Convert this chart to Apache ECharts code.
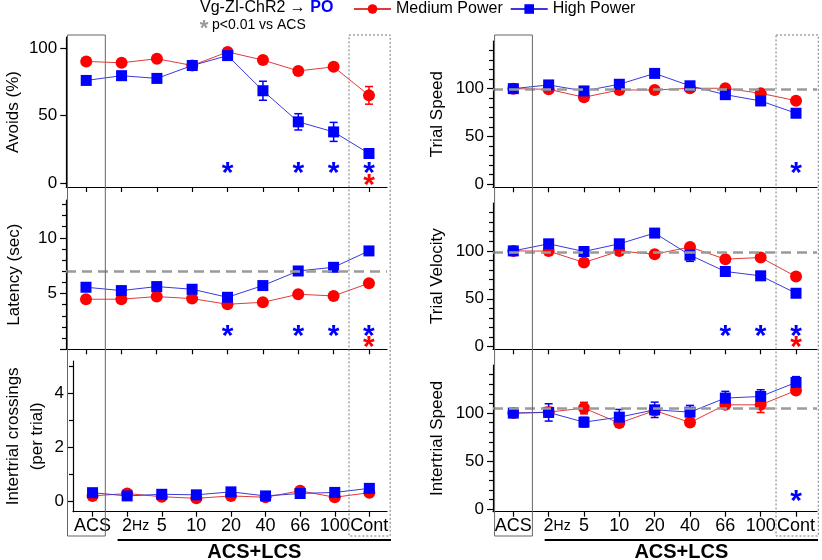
<!DOCTYPE html>
<html><head><meta charset="utf-8">
<script src="https://cdn.jsdelivr.net/npm/echarts@6/dist/echarts.min.js"></script>
<style>html,body{margin:0;padding:0;background:#fff}#c{width:822px;height:560px}</style>
</head><body><div id="c"></div>
<script>
// ---------------- DATA ----------------
const categories = ['ACS', '2Hz', '5', '10', '20', '40', '66', '100', 'Cont'];

// Avoids (%)
const avoidsMed     = [90, 89, 92, 87, 97, 91, 83, 86, 65];
const avoidsMedErr  = [2, 2, 2, 2, 2, 2, 2, 2, 6.5];
const avoidsHigh    = [76, 79.5, 77.5, 87, 94.3, 68.4, 45.5, 38.1, 22.2];
const avoidsHighErr = [2, 2, 3, 2, 2, 7, 6, 7, 2];
const avoidsStarsHigh = [[4, 11], [6, 11], [7, 11], [8, 11]];
const avoidsStarsMed  = [[8, 2.5]];

// Latency (sec)
const latencyMed     = [4.49, 4.5, 4.73, 4.55, 4.04, 4.22, 4.94, 4.79, 5.93];
const latencyMedErr  = [0.25, 0.25, 0.25, 0.25, 0.25, 0.25, 0.25, 0.25, 0.25];
const latencyHigh    = [5.57, 5.27, 5.63, 5.39, 4.67, 5.72, 7.03, 7.36, 8.83];
const latencyHighErr = [0.25, 0.25, 0.25, 0.25, 0.25, 0.25, 0.25, 0.25, 0.25];
const latencyRef = 7;
const latencyStarsHigh = [[4, 1.64], [6, 1.64], [7, 1.64], [8, 1.64]];
const latencyStarsMed  = [[8, 0.59]];

// Intertrial crossings (per trial)
const crossMed     = [0.2, 0.29, 0.17, 0.11, 0.2, 0.15, 0.39, 0.15, 0.32];
const crossMedErr  = [0.05, 0.05, 0.05, 0.05, 0.05, 0.05, 0.05, 0.05, 0.05];
const crossHigh    = [0.32, 0.2, 0.26, 0.24, 0.35, 0.2, 0.29, 0.33, 0.48];
const crossHighErr = [0.05, 0.05, 0.05, 0.05, 0.05, 0.05, 0.05, 0.05, 0.05];

// Trial Speed
const speedMed     = [100, 99.3, 91, 98.6, 98.6, 100.4, 100.4, 95.1, 87.4];
const speedMedErr  = [2, 2, 2, 2, 2, 2, 2, 2, 2];
const speedHigh    = [100, 103.9, 97.6, 104.6, 116, 103, 93.7, 87.1, 74.2];
const speedHighErr = [2, 2, 2, 2, 2, 2, 2, 2, 2];
const speedRef = 99;
const speedStarsHigh = [[8, 16.5]];

// Trial Velocity
const velMed     = [100, 99.8, 87.9, 99.8, 96.6, 104, 91.4, 93.1, 73.2];
const velMedErr  = [2, 2, 2, 2, 2, 2, 2, 2, 2];
const velHigh    = [100, 107.4, 99.4, 107.4, 118.6, 95.6, 78.5, 74, 55.8];
const velHighErr = [2, 2, 2, 2, 3, 6.5, 2, 2, 2];
const velRef = 99;
const velStarsHigh = [[6, 16.4], [7, 16.4], [8, 16.4]];
const velStarsMed  = [[8, 4.2]];

// Intertrial Speed
const itSpeedMed     = [100, 101, 105.2, 89.6, 102.7, 90.2, 108.6, 108.6, 123.5];
const itSpeedMedErr  = [2, 5, 6, 4, 4, 3, 4, 8, 4];
const itSpeedHigh    = [100, 100.7, 90.6, 95.8, 103.4, 101, 115.6, 117.3, 131.9];
const itSpeedHighErr = [2, 9, 5, 8, 8, 7, 7, 7, 6];
const itSpeedRef = 105;
const itSpeedStarsHigh = [[8, 13]];

// ---------------- STYLE / LAYOUT ----------------
const FONT = "'Liberation Sans', Arial, sans-serif";
const RED = '#ff0000', BLUE = '#0000ff';
const RED_LINE = '#e23a3a', BLUE_LINE = '#3a3ad8';
const catIdx = categories.map((c, i) => i);
const xL = [-0.565, 8.51], xR = [-0.575, 8.594];
const rTicksMinor = [10, 20, 30, 40, 60, 70, 80, 90, 110, 120, 130, 140];

const panels = [
  {g:{left:66, top:37, width:321, height:150}, xr:xL, yr:[-2.5, 108], labels:[0,50,100], major:[0,50,100], minor:[],
   name:'Avoids (%)', nameGap:40, med:avoidsMed, medErr:avoidsMedErr, high:avoidsHigh, highErr:avoidsHighErr,
   ref:null, sh:avoidsStarsHigh, sm:avoidsStarsMed, bottom:false},
  {g:{left:66, top:200, width:321, height:149.3}, xr:xL, yr:[0, 13.4], labels:[5,10], major:[0,5,10], minor:[1,2,3,4,6,7,8,9,11,12,13],
   name:'Latency (sec)', nameGap:40, med:latencyMed, medErr:latencyMedErr, high:latencyHigh, highErr:latencyHighErr,
   ref:latencyRef, sh:latencyStarsHigh, sm:latencyStarsMed, bottom:false},
  {g:{left:66, top:361, width:321, height:150.7}, xr:xL, yr:[-0.385, 5.2], labels:[0,2,4], major:[0,2,4], minor:[1,3,5],
   name:'Intertrial crossings\n(per trial)', nameGap:24, med:crossMed, medErr:crossMedErr, high:crossHigh, highErr:crossHighErr,
   ref:null, sh:[], sm:[], bottom:true},
  {g:{left:493, top:41, width:324, height:146.3}, xr:xR, yr:[-3.5, 150], labels:[0,50,100], major:[0,50,100], minor:rTicksMinor,
   name:'Trial Speed', nameGap:44, med:speedMed, medErr:speedMedErr, high:speedHigh, highErr:speedHighErr,
   ref:speedRef, sh:speedStarsHigh, sm:[], bottom:false},
  {g:{left:493, top:203, width:324, height:146.3}, xr:xR, yr:[-2.7, 150], labels:[0,50,100], major:[0,50,100], minor:rTicksMinor,
   name:'Trial Velocity', nameGap:44, med:velMed, medErr:velMedErr, high:velHigh, highErr:velHighErr,
   ref:velRef, sh:velStarsHigh, sm:velStarsMed, bottom:false},
  {g:{left:493, top:365, width:324, height:146.7}, xr:xR, yr:[-2.5, 150], labels:[0,50,100], major:[0,50,100], minor:rTicksMinor,
   name:'Intertrial Speed', nameGap:44, med:itSpeedMed, medErr:itSpeedMedErr, high:itSpeedHigh, highErr:itSpeedHighErr,
   ref:itSpeedRef, sh:itSpeedStarsHigh, sm:[], bottom:true}
];

function errRender(color) {
  return function (params, api) {
    const x = api.value(0), y = api.value(1), e = api.value(2);
    const lo = api.coord([x, y - e]), hi = api.coord([x, y + e]);
    const w = 4, st = {stroke: color, lineWidth: 1.5};
    return {type: 'group', children: [
      {type: 'line', shape: {x1: lo[0], y1: lo[1], x2: hi[0], y2: hi[1]}, style: st},
      {type: 'line', shape: {x1: lo[0] - w, y1: lo[1], x2: lo[0] + w, y2: lo[1]}, style: st},
      {type: 'line', shape: {x1: hi[0] - w, y1: hi[1], x2: hi[0] + w, y2: hi[1]}, style: st}
    ]};
  };
}
function starRender(color) {
  return function (params, api) {
    const c = api.coord([api.value(0), api.value(1)]);
    const fs = 30;
    return {type: 'text', x: c[0], y: c[1] + 0.18 * fs,
      style: {text: '*', font: 'bold ' + fs + 'px ' + FONT, fill: color, align: 'center', verticalAlign: 'middle'}};
  };
}

const grids = [], xAxes = [], yAxes = [], series = [];
panels.forEach((p, i) => {
  grids.push(Object.assign({containLabel: false}, p.g));
  xAxes.push({
    type: 'value', gridIndex: i, min: p.xr[0], max: p.xr[1],
    axisLine: {show: true, onZero: false, lineStyle: {color: '#000', width: 1.2}},
    splitLine: {show: false},
    axisTick: {show: true, customValues: catIdx, length: 5, lineStyle: {color: '#000', width: 1.2}},
    axisLabel: {show: p.bottom, customValues: catIdx, margin: 5, color: '#000', fontSize: 18, fontFamily: FONT,
      formatter: function (v) {
        const k = Math.round(v);
        if (k === 1) return '{p|}2{hz|Hz}';
        return categories[k];
      },
      rich: {p: {width: 17}, hz: {fontSize: 14, fontFamily: FONT, color: '#000'}}
    }
  });
  yAxes.push({
    type: 'value', gridIndex: i, position: 'left', min: p.yr[0], max: p.yr[1],
    axisLine: {show: true, onZero: false, lineStyle: {color: '#000', width: 1.2}},
    splitLine: {show: false},
    axisTick: {show: true, customValues: p.major, length: 6, lineStyle: {color: '#000', width: 1.2}},
    axisLabel: {show: true, customValues: p.labels, margin: 9, color: '#000', fontSize: 17, fontFamily: FONT},
    name: p.name, nameLocation: 'middle', nameGap: p.nameGap,
    nameTextStyle: {color: '#000', fontSize: 17, fontFamily: FONT, lineHeight: 24}
  });
  yAxes.push({
    type: 'value', gridIndex: i, position: 'left', min: p.yr[0], max: p.yr[1],
    axisLine: {show: false, onZero: false}, splitLine: {show: false},
    axisTick: {show: p.minor.length > 0, customValues: p.minor.length ? p.minor : [p.yr[0]], length: 4, lineStyle: {color: '#000', width: 1.2}},
    axisLabel: {show: false}
  });
  const yi = 2 * i;
  series.push({type: 'custom', xAxisIndex: i, yAxisIndex: yi, renderItem: errRender(RED), z: 2, silent: true,
    data: p.med.map((v, k) => [k, v, p.medErr[k]])});
  series.push({type: 'custom', xAxisIndex: i, yAxisIndex: yi, renderItem: errRender(BLUE), z: 2, silent: true,
    data: p.high.map((v, k) => [k, v, p.highErr[k]])});
  const ml = p.ref === null ? undefined : {
    silent: true, symbol: 'none', label: {show: false},
    lineStyle: {type: [10, 6], color: '#9a9a9a', width: 2.5},
    data: [{yAxis: p.ref}]
  };
  series.push({name: 'Medium Power', type: 'line', xAxisIndex: i, yAxisIndex: yi, z: 3,
    symbol: 'circle', symbolSize: 12, itemStyle: {color: RED},
    lineStyle: {color: RED_LINE, width: 1}, data: p.med.map((v, k) => [k, v]), markLine: ml});
  series.push({name: 'High Power', type: 'line', xAxisIndex: i, yAxisIndex: yi, z: 4,
    symbol: 'rect', symbolSize: 11, itemStyle: {color: BLUE},
    lineStyle: {color: BLUE_LINE, width: 1}, data: p.high.map((v, k) => [k, v])});
  if (p.sh.length) series.push({type: 'custom', xAxisIndex: i, yAxisIndex: yi, renderItem: starRender(BLUE), silent: true, data: p.sh});
  if (p.sm.length) series.push({type: 'custom', xAxisIndex: i, yAxisIndex: yi, renderItem: starRender(RED), silent: true, data: p.sm});
});

const chart = echarts.init(document.getElementById('c'), null, {renderer: 'canvas'});
chart.setOption({
  animation: false,
  backgroundColor: '#fff',
  textStyle: {fontFamily: FONT},
  grid: grids, xAxis: xAxes, yAxis: yAxes, series: series,
  legend: {
    data: ['Medium Power', 'High Power'], left: 353, top: 1, padding: 0,
    itemWidth: 37, itemHeight: 12, itemGap: 7,
    textStyle: {fontSize: 16, fontFamily: FONT, color: '#000'}
  }
});

// ---------------- ANNOTATIONS (boxes, group lines, titles) ----------------
function px(axisIdx, v) { return chart.convertToPixel({xAxisIndex: axisIdx}, v); }
const graphics = [];
[0, 3].forEach((ai) => {
  const boxTop = 35, boxBot = 536;
  const a1 = px(ai, -0.53), a2 = px(ai, 0.54);
  graphics.push({type: 'rect', shape: {x: a1, y: boxTop, width: a2 - a1, height: boxBot - boxTop},
    style: {fill: 'none', stroke: '#666', lineWidth: 1}, z: 10, silent: true});
  const c1 = px(ai, 7.435), c2 = px(ai, ai === 0 ? 8.6 : 8.63);
  graphics.push({type: 'rect', shape: {x: c1, y: boxTop, width: c2 - c1, height: boxBot - boxTop},
    style: {fill: 'none', stroke: '#777', lineWidth: 1, lineDash: [2, 2]}, z: 10, silent: true});
  const l1 = px(ai, 1) - 4, l2 = px(ai, 8) + 22;
  graphics.push({type: 'line', shape: {x1: l1, y1: 540, x2: l2, y2: 540},
    style: {stroke: '#000', lineWidth: 2}, z: 10, silent: true});
  graphics.push({type: 'text', x: (l1 + l2) / 2, y: 552,
    style: {text: 'ACS+LCS', font: 'bold 20px ' + FONT, fill: '#000', align: 'center', verticalAlign: 'middle'}, z: 10});
});
graphics.push({type: 'text', x: 200, y: 8, z: 10,
  style: {text: '{n|Vg-ZI-ChR2 → }{b|PO}', verticalAlign: 'middle', align: 'left',
    rich: {n: {font: '16px ' + FONT, fill: '#000'}, b: {font: 'bold 16px ' + FONT, fill: BLUE}}}});
graphics.push({type: 'text', x: 204, y: 24 + 5, z: 10,
  style: {text: '*', font: 'bold 22px ' + FONT, fill: '#999', align: 'center', verticalAlign: 'middle'}});
graphics.push({type: 'text', x: 212, y: 25, z: 10,
  style: {text: 'p<0.01 vs ACS', font: '14px ' + FONT, fill: '#000', align: 'left', verticalAlign: 'middle'}});
chart.setOption({graphic: graphics});
</script>
</body></html>
